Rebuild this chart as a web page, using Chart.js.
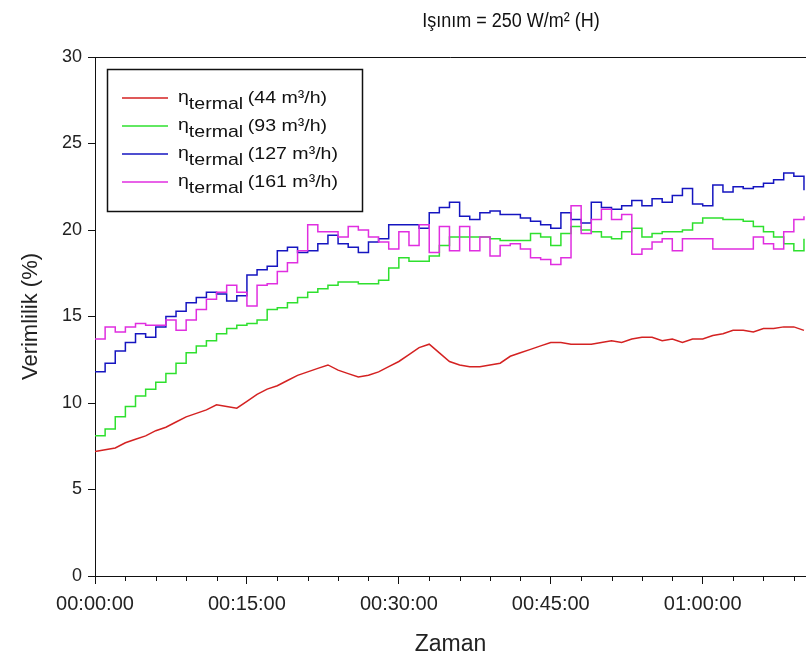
<!DOCTYPE html>
<html>
<head>
<meta charset="utf-8">
<script src="https://cdn.jsdelivr.net/npm/chart.js@4.4.1/dist/chart.umd.min.js"></script>
<style>
  html, body { margin: 0; padding: 0; background: #fff; }
  #chart { display: block; }
</style>
</head>
<body>
<canvas id="chart" width="806" height="666"></canvas>
<script>
// zaman (dakika)
const minutes = [0, 1, 2, 3, 4, 5, 6, 7, 8, 9, 10, 11, 12, 13, 14, 15, 16, 17, 18, 19, 20,
  21, 22, 23, 24, 25, 26, 27, 28, 29, 30, 31, 32, 33, 34, 35, 36, 37, 38, 39, 40,
  41, 42, 43, 44, 45, 46, 47, 48, 49, 50, 51, 52, 53, 54, 55, 56, 57, 58, 59, 60,
  61, 62, 63, 64, 65, 66, 67, 68, 69, 70];

// verimlilik (%) - 44 m3/h
const eta44 = [7.2, 7.3, 7.4, 7.7, 7.9, 8.1, 8.4, 8.6, 8.9, 9.2, 9.4, 9.6, 9.9, 9.8, 9.7,
  10.1, 10.5, 10.8, 11.0, 11.3, 11.6, 11.8, 12.0, 12.2, 11.9, 11.7, 11.5, 11.6, 11.8, 12.1,
  12.4, 12.8, 13.2, 13.4, 12.9, 12.4, 12.2, 12.1, 12.1, 12.2, 12.3, 12.7, 12.9, 13.1, 13.3,
  13.5, 13.5, 13.4, 13.4, 13.4, 13.5, 13.6, 13.5, 13.7, 13.8, 13.8, 13.6, 13.7, 13.5, 13.7,
  13.7, 13.9, 14.0, 14.2, 14.2, 14.1, 14.3, 14.3, 14.4, 14.4, 14.2];

// 93 m3/h
const eta93 = [8.1, 8.5, 9.2, 9.8, 10.4, 10.8, 11.2, 11.7, 12.3, 12.9, 13.3, 13.6, 14.0, 14.3, 14.5,
  14.6, 14.8, 15.4, 15.5, 15.8, 16.1, 16.4, 16.6, 16.8, 17.0, 17.0, 16.9, 16.9, 17.1, 17.8,
  18.4, 18.2, 18.2, 18.5, 19.1, 19.6, 19.6, 19.6, 19.6, 19.5, 19.4, 19.4, 19.4, 19.8, 19.6,
  19.1, 19.8, 20.2, 20.0, 19.9, 19.6, 19.5, 19.9, 20.1, 19.6, 19.8, 19.9, 19.9, 20.0, 20.4,
  20.7, 20.7, 20.6, 20.6, 20.5, 20.2, 19.9, 19.6, 19.2, 18.8, 19.5];

// 127 m3/h
const eta127 = [11.8, 12.3, 13.0, 13.5, 14.0, 13.8, 14.4, 15.0, 15.3, 15.8, 16.1, 16.4, 16.3, 15.9, 16.2,
  17.4, 17.7, 17.9, 18.8, 19.0, 18.7, 18.8, 19.2, 19.7, 19.2, 19.0, 18.7, 19.3, 19.5, 20.3,
  20.3, 20.3, 20.1, 21.0, 21.3, 21.6, 20.8, 20.6, 21.0, 21.1, 20.9, 20.9, 20.7, 20.5, 20.3,
  20.1, 21.0, 20.6, 20.4, 21.6, 21.3, 21.2, 21.4, 21.7, 21.4, 21.8, 21.6, 22.0, 22.4, 21.5,
  21.4, 22.6, 22.2, 22.5, 22.4, 22.5, 22.7, 22.9, 23.3, 23.1, 22.3];

// 161 m3/h
const eta161 = [13.7, 14.4, 14.1, 14.4, 14.6, 14.5, 14.5, 14.8, 14.2, 14.8, 15.4, 16.0, 16.4, 16.8, 16.4,
  15.6, 16.8, 16.9, 17.6, 18.1, 18.8, 20.3, 19.9, 19.9, 19.6, 20.2, 20.0, 19.6, 19.3, 18.9,
  19.9, 19.1, 20.3, 18.7, 20.2, 18.8, 20.2, 18.8, 19.6, 18.5, 19.1, 19.2, 18.9, 18.4, 18.3,
  18.0, 18.4, 21.4, 19.8, 20.6, 21.2, 20.6, 20.9, 18.6, 18.9, 19.3, 19.5, 18.8, 19.5, 19.5,
  19.5, 18.9, 18.9, 18.9, 18.9, 19.6, 19.2, 18.9, 19.9, 20.6, 20.8];

const seriesNames = ["44 m³/h", "93 m³/h", "127 m³/h", "161 m³/h"];
const seriesColors = ["#d42222", "#2ee02e", "#1515c0", "#e02ee0"];
const yTicks = [0, 5, 10, 15, 20, 25, 30];

const FONT = "'Liberation Sans', Arial, sans-serif";

const pts = (arr) => minutes.map((m, i) => ({ x: m, y: arr[i] }));

const fmtTime = (v) => {
  const h = Math.floor(v / 60);
  const m = v % 60;
  return String(h).padStart(2, "0") + ":" + String(m).padStart(2, "0") + ":00";
};

// cerceve, ara tikler, baslik ve gosterge
const decorPlugin = {
  id: "decor",
  afterDraw(chart) {
    const { ctx, chartArea: area, scales } = chart;
    ctx.save();
    ctx.strokeStyle = "#111";
    ctx.lineWidth = 1;
    // ust cizgi
    ctx.beginPath();
    ctx.moveTo(area.left - 0.5, area.top + 0.5);
    ctx.lineTo(area.right, area.top + 0.5);
    ctx.stroke();
    // ara tikler (3 dk)
    const xs = scales.x;
    ctx.beginPath();
    for (let v = 3; v <= xs.max; v += 3) {
      if (v % 15 === 0) continue;
      const px = Math.round(xs.getPixelForValue(v)) + 0.5;
      ctx.moveTo(px, area.bottom);
      ctx.lineTo(px, area.bottom + 5);
    }
    ctx.stroke();

    // baslik
    ctx.save();
    ctx.fillStyle = "#111";
    ctx.font = "20px " + FONT;
    ctx.textAlign = "center";
    ctx.textBaseline = "middle";
    ctx.translate(511, 21);
    ctx.scale(0.9, 1);
    ctx.fillText("Işınım = 250 W/m² (H)", 0, 0);
    ctx.restore();

    // gosterge
    const bx = area.left + 12, by = area.top + 12;
    ctx.lineWidth = 1.5;
    ctx.strokeStyle = "#111";
    ctx.strokeRect(bx + 0.5, by + 0.5, 255, 142);
    ctx.textAlign = "left";
    ctx.textBaseline = "alphabetic";
    const sx = 1.15; // metin yatayda biraz genis
    seriesNames.forEach((name, i) => {
      const ry = by + 29 + i * 28;
      ctx.strokeStyle = seriesColors[i];
      ctx.lineWidth = 1.5;
      ctx.beginPath();
      ctx.moveTo(bx + 15, ry);
      ctx.lineTo(bx + 61, ry);
      ctx.stroke();
      ctx.save();
      ctx.translate(bx + 71, 0);
      ctx.scale(sx, 1);
      let tx = 0;
      ctx.fillStyle = "#111";
      ctx.font = "17px " + FONT;
      ctx.fillText("η", tx, ry + 4);
      tx += ctx.measureText("η").width;
      ctx.fillText("termal", tx, ry + 11);
      tx += ctx.measureText("termal").width + 4;
      ctx.fillText("(" + name + ")", tx, ry + 5);
      ctx.restore();
    });
    ctx.restore();
  },
};

const ctx = document.getElementById("chart").getContext("2d");
const dataSets = [eta44, eta93, eta127, eta161].map((arr, i) => ({
  label: seriesNames[i],
  data: pts(arr),
  borderColor: seriesColors[i],
  backgroundColor: seriesColors[i],
  borderWidth: 1.5,
  pointRadius: 0,
  stepped: i === 0 ? false : true,
  tension: 0,
  fill: false,
  order: 4 - i,
}));

const chart = new Chart(ctx, {
  type: "line",
  data: { datasets: dataSets },
  plugins: [decorPlugin],
  options: {
    responsive: false,
    animation: false,
    layout: { padding: { top: 57, right: 0, left: 0, bottom: 0 } },
    plugins: {
      legend: { display: false },
      title: { display: false },
      tooltip: { enabled: false },
    },
    scales: {
      x: {
        type: "linear",
        min: 0,
        max: 70.2,
        afterFit: (scale) => { scale.height = 90; },
        border: { display: true, color: "#111", width: 1 },
        grid: { drawOnChartArea: false, tickLength: 8, color: "#111" },
        ticks: {
          stepSize: 15,
          includeBounds: false,
          maxRotation: 0,
          color: "#222",
          padding: 8,
          font: { family: FONT, size: 20 },
          callback: (v) => fmtTime(v),
        },
        title: {
          display: true,
          text: "Zaman",
          color: "#222",
          font: { family: FONT, size: 23 },
          padding: { top: 0, bottom: 8 },
        },
      },
      y: {
        min: 0,
        max: 30,
        afterFit: (scale) => { scale.width = 95; },
        afterBuildTicks: (scale) => { scale.ticks = yTicks.map((v) => ({ value: v })); },
        border: { display: true, color: "#111", width: 1 },
        grid: { drawOnChartArea: false, tickLength: 7, color: "#111" },
        ticks: {
          color: "#222",
          padding: 6,
          font: { family: FONT, size: 18 },
        },
        title: {
          display: true,
          text: "Verimlilik (%)",
          color: "#222",
          font: { family: FONT, size: 22 },
          padding: { top: 18, bottom: 0 },
        },
      },
    },
  },
});
</script>
</body>
</html>
